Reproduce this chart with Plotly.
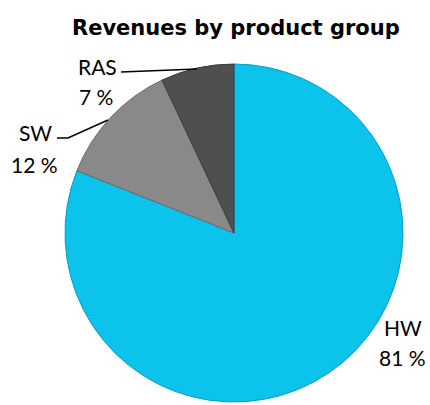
import plotly.graph_objects as go

# Data
labels = ["HW", "SW", "RAS"]
values = [81, 12, 7]
colors = ["#0CC3EC", "#898989", "#4F4F4F"]
edge_colors = ["#0A9CC0", "#6A6A6A", "#3A3A3A"]
title = "Revenues by product group"

W, H = 430, 405
def px(x):
    return x / W
def py(y):
    return 1 - y / H

total = sum(values)
pcts = [f"{round(v / total * 100):.0f} %" for v in values]

fig = go.Figure(go.Pie(
    labels=labels, values=values, sort=False, direction="clockwise", rotation=0,
    marker=dict(colors=colors, line=dict(color=edge_colors, width=1)),
    textinfo="none", hoverinfo="label+percent", showlegend=False,
    domain=dict(x=[px(64), px(404)], y=[py(402), py(64)]),
))

font = dict(family="Lato, Liberation Sans, sans-serif", size=21, color="#000000")
label_pos = {"HW": ((403, 327), (402, 357)), "SW": ((35, 132), (34, 164)), "RAS": ((97, 66), (96, 96))}
for lab, pct in zip(labels, pcts):
    (x1, y1), (x2, y2) = label_pos[lab]
    fig.add_annotation(x=px(x1), y=py(y1), xref="paper", yref="paper", text=lab,
                       showarrow=False, xanchor="center", yanchor="middle", font=font)
    fig.add_annotation(x=px(x2), y=py(y2), xref="paper", yref="paper", text=pct,
                       showarrow=False, xanchor="center", yanchor="middle", font=font)

# leader lines
fig.add_shape(type="path", xref="paper", yref="paper",
              path=f"M {px(121)} {py(72)} L {px(197)} {py(69)}",
              line=dict(color="black", width=1.5))
fig.add_shape(type="path", xref="paper", yref="paper",
              path=f"M {px(57)} {py(138)} L {px(68)} {py(138)} L {px(108)} {py(120)}",
              line=dict(color="black", width=1.5))

fig.add_annotation(x=px(236), y=py(28), xref="paper", yref="paper",
                   text=f"<b>{title}</b>", showarrow=False, xanchor="center", yanchor="middle",
                   font=dict(family="DejaVu Sans, Verdana, sans-serif", size=21, color="#000000"))

fig.update_layout(width=W, height=H, margin=dict(l=0, r=0, t=0, b=0),
                  paper_bgcolor="white", plot_bgcolor="white")
fig.write_html("out.html", config={"displayModeBar": False},
               post_script="document.body.style.margin='0';")
